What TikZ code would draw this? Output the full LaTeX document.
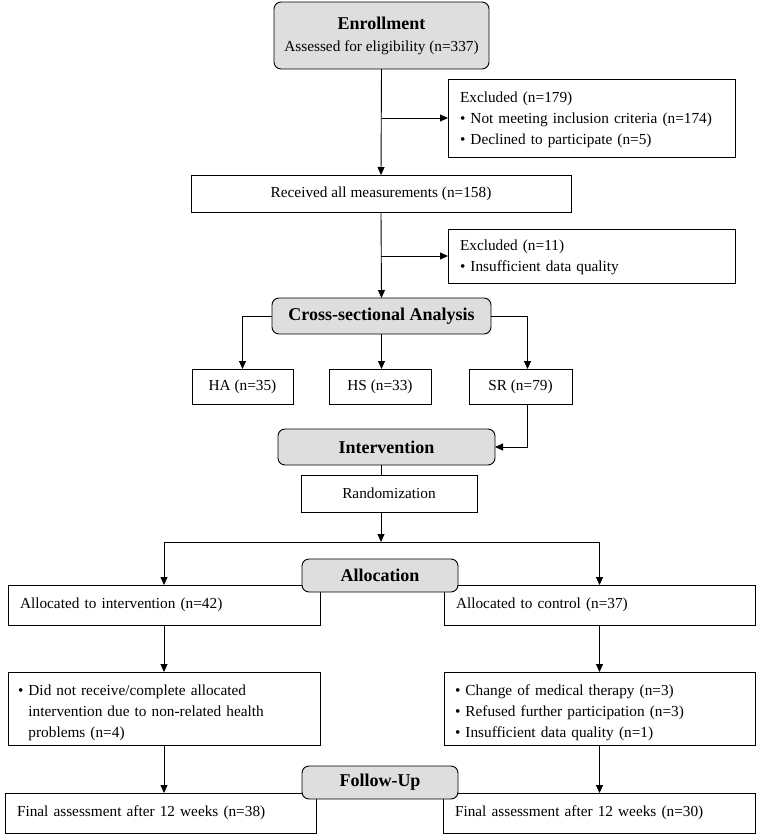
\documentclass[tikz,border=0pt]{standalone}
\usepackage{fontspec}
\setmainfont{Liberation Serif}
\usetikzlibrary{arrows.meta}
\definecolor{hdrgray}{HTML}{DEDEDE}
\begin{document}
\begin{tikzpicture}[x=1pt,y=-1pt,
  every node/.style={inner sep=0pt, outer sep=0pt},
  box/.style={draw, line width=0.9pt, fill=white, font=\fontsize{15.3}{21}\selectfont},
  lbox/.style={box, align=left},
  hdr/.style={draw, line width=0.9pt, rounded corners=7pt, fill=hdrgray, font=\fontsize{18}{21}\selectfont\bfseries},
  arr/.style={line width=0.9pt, -{Triangle[length=8pt,width=7pt]}},
  conn/.style={line width=0.9pt}]
\useasboundingbox (0,0) rectangle (758,838);
\coordinate (spine) at (381,0);
\coordinate (split) at (381,542);

% top part
\node[hdr, minimum width=215, minimum height=67, align=center] (enroll) at (381.5,35.5)
  {{\fontsize{18}{21}\selectfont\bfseries Enrollment}\\[1pt]{\fontsize{15.3}{21}\selectfont\mdseries Assessed for eligibility (n=337)}};
\node[lbox, minimum width=287, minimum height=78, text width=263] (excl1) at (591.5,118)
  {\rule{0pt}{14pt}Excluded (n=179)\\ • Not meeting inclusion criteria (n=174)\\ • Declined to participate (n=5)};
\node[box, minimum width=380, minimum height=37] (recv) at (381,193.5) {Received all measurements (n=158)};
\node[lbox, minimum width=287, minimum height=54, text width=263] (excl2) at (591.5,256)
  {\rule{0pt}{14pt}Excluded (n=11)\\ • Insufficient data quality};
\node[hdr, minimum width=219, minimum height=36] (cross) at (381.5,316) {Cross-sectional Analysis};
\node[box, minimum width=101, minimum height=35] (ha) at (242.5,386.5) {HA (n=35)};
\node[box, minimum width=102, minimum height=35] (hs) at (380,386.5) {HS (n=33)};
\node[box, minimum width=103, minimum height=35] (sr) at (520.5,386.5) {SR (n=79)};
\node[hdr, minimum width=217, minimum height=36] (interv) at (386.5,447) {Intervention};
\node[box, minimum width=176, minimum height=37] (rand) at (389,493.5) {Randomization};

% allocation
\node[lbox, minimum width=312, minimum height=40, text width=288] (allocL) at (164,605) {Allocated to intervention (n=42)};
\node[lbox, minimum width=311, minimum height=40, text width=287] (allocR) at (599.5,605) {Allocated to control (n=37)};
\node[lbox, minimum width=312, minimum height=73, text width=292] (midL) at (164,708.5)
  {\rule{0pt}{19pt}• Did not receive/complete allocated\\ \phantom{• }intervention due to non-related health\\ \phantom{• }problems (n=4)};
\node[lbox, minimum width=311, minimum height=73, text width=289] (midR) at (599.5,708.5)
  {\rule{0pt}{19pt}• Change of medical therapy (n=3)\\ • Refused further participation (n=3)\\ • Insufficient data quality (n=1)};
\node[lbox, minimum width=311, minimum height=40, text width=287] (finL) at (160.5,813) {Final assessment after 12 weeks (n=38)};
\node[lbox, minimum width=312, minimum height=40, text width=288] (finR) at (599,813) {Final assessment after 12 weeks (n=30)};
\node[hdr, minimum width=156, minimum height=33] (alloc) at (380,575.5) {Allocation};
\node[hdr, minimum width=156, minimum height=33] (follow) at (380,782.5) {Follow-Up};

% connectors
\draw[arr] (enroll.south) -- (recv.north);
\draw[arr] (enroll.south |- excl1.west) -- (excl1.west);
\draw[arr] (recv.south) -- (cross.north);
\draw[arr] (recv.south |- excl2.west) -- (excl2.west);
\draw[arr] (cross.west) -| (ha.north);
\draw[arr] (cross.south) -- (cross.south |- hs.north);
\draw[arr] (cross.east) -| ([xshift=7pt]sr.north);
\draw[arr] ([xshift=7pt]sr.south) |- (interv.east);
\draw[conn] (interv.south -| spine) -- (rand.north -| spine);
\draw[arr] (rand.south -| spine) -- (split);
\draw[conn] (allocL.north |- split) -- (allocR.north |- split);
\draw[arr] (allocL.north |- split) -- (allocL.north);
\draw[arr] (allocR.north |- split) -- (allocR.north);
\draw[arr] (allocL.south) -- (midL.north);
\draw[arr] (allocR.south) -- (midR.north);
\draw[arr] (midL.south) -- (midL.south |- finL.north);
\draw[arr] (midR.south) -- (midR.south |- finR.north);
\end{tikzpicture}
\end{document}
